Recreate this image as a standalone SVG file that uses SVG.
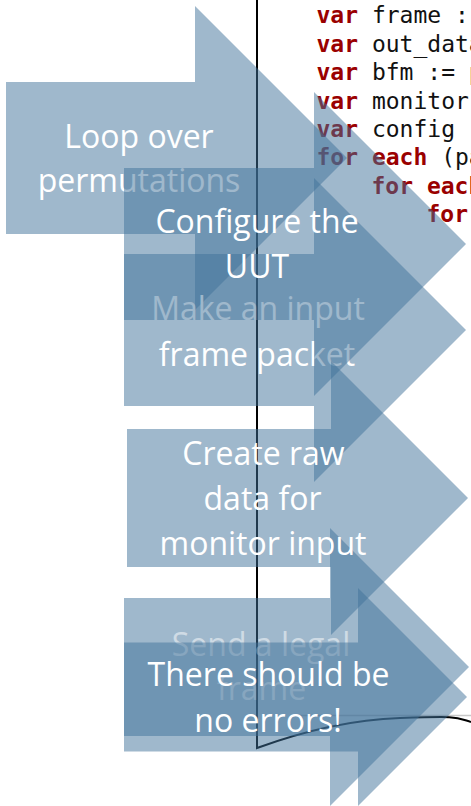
<svg xmlns="http://www.w3.org/2000/svg" width="471" height="806" viewBox="0 0 471 806">
<style>
  .code { font-family: "DejaVu Sans Mono", "Liberation Mono", monospace; font-size: 23px; fill: #111; }
  .kw { fill: #9a0000; font-weight: bold; }
  .shape { fill: #3f7199; fill-opacity: 0.5; }
  .lbl { font-family: "Open Sans", "Noto Sans", sans-serif; font-size: 32px; fill: #ffffff; text-anchor: middle; }
  .faded { fill-opacity: 0.5; }
</style>
<rect x="0" y="0" width="471" height="806" fill="#ffffff"/>
<g id="code-background">
  <text class="code" x="316.5" y="23"><tspan class="kw">var</tspan> frame :</text>
  <text class="code" x="316.5" y="51.5"><tspan class="kw">var</tspan> out_data</text>
  <text class="code" x="316.5" y="80"><tspan class="kw">var</tspan> bfm := p</text>
  <text class="code" x="316.5" y="108.5"><tspan class="kw">var</tspan> monitor</text>
  <text class="code" x="316.5" y="137"><tspan class="kw">var</tspan> config :</text>
  <text class="code" x="316.5" y="165"><tspan class="kw">for</tspan> <tspan class="kw">each</tspan> (pa</text>
  <text class="code" x="371.5" y="193.5"><tspan class="kw">for</tspan> <tspan class="kw">each</tspan></text>
  <text class="code" x="426.5" y="222"><tspan class="kw">for</tspan></text>
  <path d="M300,715.5 H471" stroke="#c8c8c8" stroke-width="1.5" fill="none"/>
  <path d="M257,0 V748 C290,736 340,720 400,718 S455,717 471,722" stroke="#000" stroke-width="2" fill="none"/>
</g>
<g id="loop-over-permutations">
  <path class="shape" d="M6,82 H195 V6 L347,158 L195,310 V234 H6 Z"/>
  <text class="lbl" x="139" y="148">Loop over</text>
  <text class="lbl" x="139" y="191.5">permutations</text>
</g>
<g id="make-input-frame-packet">
  <path class="shape" d="M124,254 H314 V178 L466,330 L314,482 V406 H124 Z"/>
  <text class="lbl" x="258" y="320">Make an input</text>
  <text class="lbl" x="257" y="365.5">frame packet</text>
</g>
<g id="configure-uut">
  <path class="shape" d="M124,168 H314 V92 L466,244 L314,396 V320 H124 Z"/>
  <text class="lbl" x="257" y="233">Configure the</text>
  <text class="lbl" x="257" y="278">UUT</text>
</g>
<g id="send-legal-frame">
  <path class="shape" d="M124,598 H330 V528 L469,667 L330,806 V736 H124 Z"/>
  <text class="lbl faded" x="261" y="656">Send a legal</text>
  <text class="lbl faded" x="261.5" y="700">frame</text>
</g>
<g id="there-should-be-no-errors">
  <path class="shape" d="M124,642.5 H358 V588 L467,697 L358,806 V751.5 H124 Z"/>
  <text class="lbl" x="268.5" y="686">There should be</text>
  <text class="lbl" x="268" y="731.5">no errors!</text>
</g>
<g id="create-raw-data">
  <path class="shape" d="M127,429 H331 V361 L468,498 L331,635 V567 H127 Z"/>
  <text class="lbl" x="263.5" y="465">Create raw</text>
  <text class="lbl" x="262.5" y="510">data for</text>
  <text class="lbl" x="263" y="555">monitor input</text>
</g>
<g id="connectors"></g>
</svg>
